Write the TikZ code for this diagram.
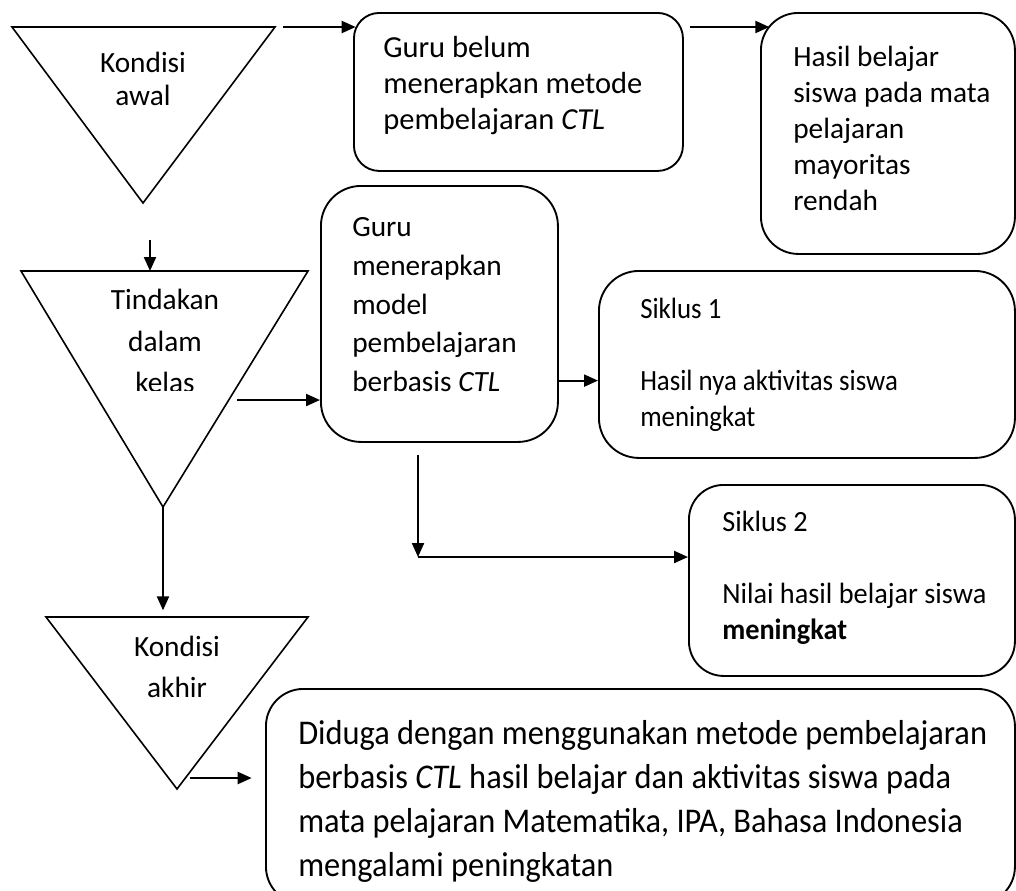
\documentclass[tikz,border=0pt]{standalone}
\usepackage{fontspec}
\setmainfont{Carlito}
\newfontfamily\sempitA{Carlito}[FakeStretch=0.915]
\newfontfamily\sempitB{Carlito}[FakeStretch=0.935]
\newfontfamily\sempitC{Carlito}[FakeStretch=0.965]
\usetikzlibrary{arrows.meta,positioning,calc}

\tikzset{
    kotak/.style={rectangle, rounded corners=#1, draw=black, line width=1.4pt, inner sep=0pt, anchor=north west},
    kotak/.default=28pt,
    segitiga/.style={draw=black, line width=1.2pt, line join=miter},
    teks/.style={align=left, inner sep=0pt, font=\fontsize{22}{27}\selectfont},
    panah/.style={line width=1.6pt, -{Triangle[length=10.5pt, width=9pt]}}
}

\begin{document}
\begin{tikzpicture}[x=0.75pt, y=-0.75pt]
    \clip (0,0) rectangle (1016,890);

    % segitiga kondisi
    \draw [segitiga] (12,27) coordinate (awalL) -- (275,27) coordinate (awalR) -- (143,203) coordinate (awalB) -- cycle;
    \node (awal) [teks, align=center, font=\fontsize{22}{25}\selectfont] at (143,79) {Kondisi\\awal};

    \draw [segitiga] (21,271) coordinate (tindakanL) -- (308,271) coordinate (tindakanR) -- (163,507) coordinate (tindakanB) -- cycle;
    \begin{scope}
        \clip (60,275) rectangle (270,390);
        \node (tindakan) [teks, align=center, font=\fontsize{22}{31}\selectfont] at (165,341) {Tindakan\\dalam\\kelas};
    \end{scope}

    \draw [segitiga] (46,617) coordinate (akhirL) -- (308,617) coordinate (akhirR) -- (177,789) coordinate (akhirB) -- cycle;
    \node (akhir) [teks, align=center, font=\fontsize{22}{31}\selectfont] at (177,667) {Kondisi\\akhir};

    % kotak
    \node (guruA) [kotak=19pt, minimum width=246.75pt, minimum height=118.5pt] at (353,12) {};
    \node (guruAteks) [teks, anchor=west, font=\fontsize{22.9}{27}\selectfont] at ([xshift=22.5pt, yshift=5pt]guruA.west) {Guru belum\\menerapkan metode\\pembelajaran \textit{CTL}};

    \node (hasil) [kotak=28pt, minimum width=190.5pt, minimum height=180.75pt] at (760,12) {};
    \node (hasilteks) [teks, anchor=west] at ([xshift=24.75pt, yshift=4pt]hasil.west) {Hasil belajar\\siswa pada mata\\pelajaran\\mayoritas\\rendah};

    \node (guruB) [kotak=30pt, minimum width=177.75pt, minimum height=192pt] at (320,185) {};
    \node (guruBteks) [teks, anchor=west, font=\fontsize{22}{29}\selectfont] at ([xshift=24pt, yshift=7pt]guruB.west) {Guru\\menerapkan\\model\\pembelajaran\\berbasis \textit{CTL}};

    \node (siklusA) [kotak=30pt, minimum width=312pt, minimum height=140.25pt] at (598,270) {};
    \node (siklusAteks) [teks, anchor=west, font=\sempitA\fontsize{22}{27}\selectfont] at ([xshift=31.5pt]siklusA.west) {Siklus 1\\[27pt]Hasil nya aktivitas siswa\\meningkat};

    \node (siklusB) [kotak=26pt, minimum width=244.5pt, minimum height=143.25pt] at (688,484) {};
    \node (siklusBteks) [teks, anchor=west, font=\sempitC\fontsize{22}{27}\selectfont] at ([xshift=25.5pt, yshift=2pt]siklusB.west) {Siklus 2\\[27pt]Nilai hasil belajar siswa\\\textbf{meningkat}};

    \node (duga) [kotak=28pt, minimum width=561.75pt, minimum height=161.25pt] at (265,688) {};
    \node (dugateks) [teks, anchor=west, font=\sempitB\fontsize{26}{33}\selectfont] at ([xshift=24.75pt, yshift=-4pt]duga.west) {Diduga dengan menggunakan metode pembelajaran\\berbasis \textit{CTL} hasil belajar dan aktivitas siswa pada\\mata pelajaran Matematika, IPA, Bahasa Indonesia\\mengalami peningkatan};

    % panah
    \coordinate (awalP) at (150,240);
    \coordinate (tindakanT) at (150,271);
    \coordinate (kelasR) at (237,400);
    \coordinate (guruBR) at ([yshift=-50pt]guruB.east);
    \coordinate (belok) at (418,557);
    \coordinate (akhirT) at (163,617);
    \coordinate (akhirP) at (190,778);

    \draw [panah] ([xshift=6pt]awalR) -- ([xshift=2pt]guruA.west |- awalR);
    \draw [panah] ([xshift=4.5pt]guruA.east |- awalR) -- ([xshift=7pt]hasil.west |- awalR);
    \draw [panah] (awalP) -- (tindakanT);
    \draw [panah] (kelasR) -- (guruB.west |- kelasR);
    \draw [panah] (guruBR) -- (siklusA.west |- guruBR);
    \draw [panah] ([yshift=-9pt]guruB.south -| belok) -- (belok);
    \draw [panah] (belok) -- (siklusB.west |- belok);
    \draw [panah] (tindakanB) -- ([yshift=5pt]akhirT);
    \draw [panah] (akhirP) -- ([xshift=-10pt]duga.west |- akhirP);
\end{tikzpicture}
\end{document}
